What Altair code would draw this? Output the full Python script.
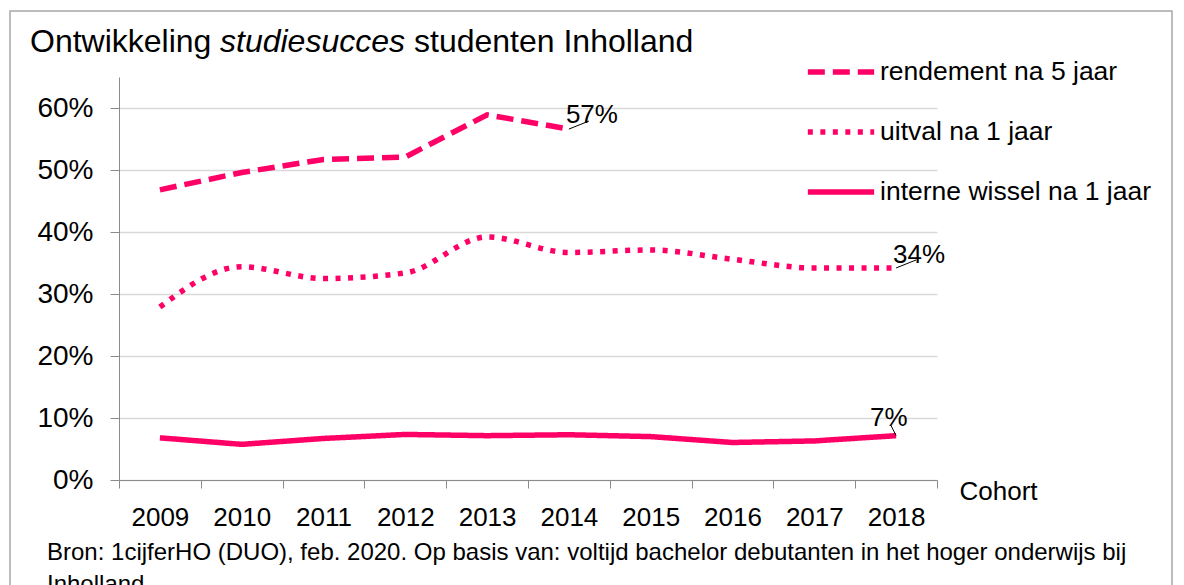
import altair as alt
import pandas as pd

# ---------------- data ----------------
years = ["2009", "2010", "2011", "2012", "2013", "2014", "2015", "2016", "2017", "2018"]
series_names = ["rendement na 5 jaar", "uitval na 1 jaar", "interne wissel na 1 jaar"]
rendement = [0.468, 0.496, 0.517, 0.521, 0.589, 0.566]
uitval = [0.279, 0.344, 0.325, 0.334, 0.392, 0.367, 0.371, 0.356, 0.342, 0.342]
intern = [0.068, 0.0575, 0.067, 0.0735, 0.0715, 0.073, 0.070, 0.0605, 0.063, 0.0715]
y_ticks = [0.0, 0.1, 0.2, 0.3, 0.4, 0.5, 0.6]
title_parts = ["Ontwikkeling", "studiesucces", "studenten Inholland"]
source_lines = [
    "Bron: 1cijferHO (DUO), feb. 2020. Op basis van: voltijd bachelor debutanten in het hoger onderwijs bij",
    "Inholland",
]

rows = []
for name, vals in zip(series_names, [rendement, uitval, intern]):
    for yr, v in zip(years, vals):
        rows.append({"year": yr, "series": name, "value": v})
df = pd.DataFrame(rows)

PINK = "#FF0066"
FONT = "Liberation Sans"
GRAY = "#8C8C8C"

x_scale = alt.Scale(type="band", domain=years, paddingInner=0, paddingOuter=0)
y_scale = alt.Scale(domain=[0, 0.65], nice=False, zero=True)

x_enc = alt.X(
    "year:O",
    bandPosition=0.5,
    scale=x_scale,
    axis=alt.Axis(
        title="Cohort",
        titleX=840,
        titleY=19,
        titleAlign="left",
        titleBaseline="alphabetic",
        titleAngle=0,
        titleFont=FONT,
        titleFontSize=26,
        titleFontWeight="normal",
        titleColor="black",
        labelAngle=0,
        labelFont=FONT,
        labelFontSize=26,
        labelColor="black",
        labelPadding=16,
        tickSize=8,
        tickBand="extent",
        tickColor=GRAY,
        domainColor=GRAY,
        grid=False,
    ),
)
y_enc = alt.Y(
    "value:Q",
    scale=y_scale,
    axis=alt.Axis(
        title=None,
        values=y_ticks,
        format=".0%",
        labelFont=FONT,
        labelFontSize=28,
        labelColor="black",
        labelPadding=17,
        tickSize=9,
        tickColor=GRAY,
        domainColor=GRAY,
        grid=True,
        gridColor="#D9D9D9",
        gridWidth=1.5,
    ),
)

dash_enc = alt.StrokeDash(
    "series:N",
    scale=alt.Scale(domain=series_names, range=[[17, 8], [5, 7.5], [1, 0]]),
    sort=series_names,
    legend=alt.Legend(
        title=None,
        orient="none",
        legendX=686,
        legendY=-41,
        padding=0,
        symbolType="stroke",
        symbolSize=4400,
        symbolStrokeWidth=5.5,
        symbolStrokeColor=PINK,
        labelFont=FONT,
        labelFontSize=26.5,
        labelColor="black",
        labelOffset=3,
        labelLimit=400,
        rowPadding=10,
    ),
)

base = alt.Chart(df)
lines_linear = base.transform_filter(
    alt.FieldOneOfPredicate(field="series", oneOf=[series_names[0], series_names[2]])
).mark_line(color=PINK, strokeWidth=5.5).encode(x=x_enc, y=y_enc, strokeDash=dash_enc)

lines_smooth = base.transform_filter(
    alt.FieldEqualPredicate(field="series", equal=series_names[1])
).mark_line(color=PINK, strokeWidth=5.5, interpolate="monotone").encode(
    x=x_enc, y=y_enc, strokeDash=dash_enc
)


def end_label(year, value, dx, dy, ox, oy):
    d = pd.DataFrame({"year": [year], "value": [value]})
    b = alt.Chart(d)
    txt = b.mark_text(
        align="left", baseline="alphabetic", dx=dx, dy=dy,
        font=FONT, fontSize=26, color="black",
    ).encode(
        x=alt.X("year:O", bandPosition=0.5, scale=x_scale),
        y=alt.Y("value:Q", scale=y_scale),
        text=alt.Text("value:Q", format=".0%"),
    )
    rule = b.mark_rule(color="black", strokeWidth=1, x2Offset=ox, y2Offset=oy).encode(
        x=alt.X("year:O", bandPosition=0.5, scale=x_scale),
        y=alt.Y("value:Q", scale=y_scale),
        x2=alt.X2("year", bandPosition=0.5),
        y2=alt.Y2("value"),
    )
    return txt + rule


lab1 = end_label(years[len(rendement) - 1], rendement[-1], -3, -6, 20, -8)
lab2 = end_label(years[-1], uitval[-1], -3, -5, 20, -8)
lab3 = end_label(years[-1], intern[-1], -26, -10, -5, -10)


def text_piece(txt, x, y, size, style="normal", align="left"):
    d = pd.DataFrame({"t": [txt]})
    return alt.Chart(d).mark_text(
        align=align, baseline="alphabetic", font=FONT, fontSize=size,
        fontStyle=style, color="black",
    ).encode(x=alt.value(x), y=alt.value(y), text="t:N")


t1 = text_piece(title_parts[0], -89, -25, 32)
t2 = text_piece(title_parts[1], 101, -25, 32, style="italic")
t3 = text_piece(title_parts[2], 295, -25, 32)

src = alt.Chart(pd.DataFrame({"k": [0]})).mark_text(
    align="left", baseline="alphabetic", font=FONT, fontSize=24, color="black", lineHeight=32,
).encode(x=alt.value(-72), y=alt.value(483), text=alt.value(source_lines))

frame = alt.Chart(pd.DataFrame({"k": [0]})).mark_rect(
    fill=None, stroke="#A6A6A6", strokeWidth=1.5
).encode(x=alt.value(-109), x2=alt.value(1053), y=alt.value(-66), y2=alt.value(560))

chart = alt.layer(
    frame, lines_linear, lines_smooth, lab1, lab2, lab3, t1, t2, t3, src
).properties(
    width=818,
    height=403,
    autosize=alt.AutoSizeParams(type="none"),
    padding={"left": 119, "top": 77, "right": 247, "bottom": 105},
    background="white",
).configure_view(stroke=None)

chart.save("out.html", embed_options={"renderer": "svg", "actions": False})
